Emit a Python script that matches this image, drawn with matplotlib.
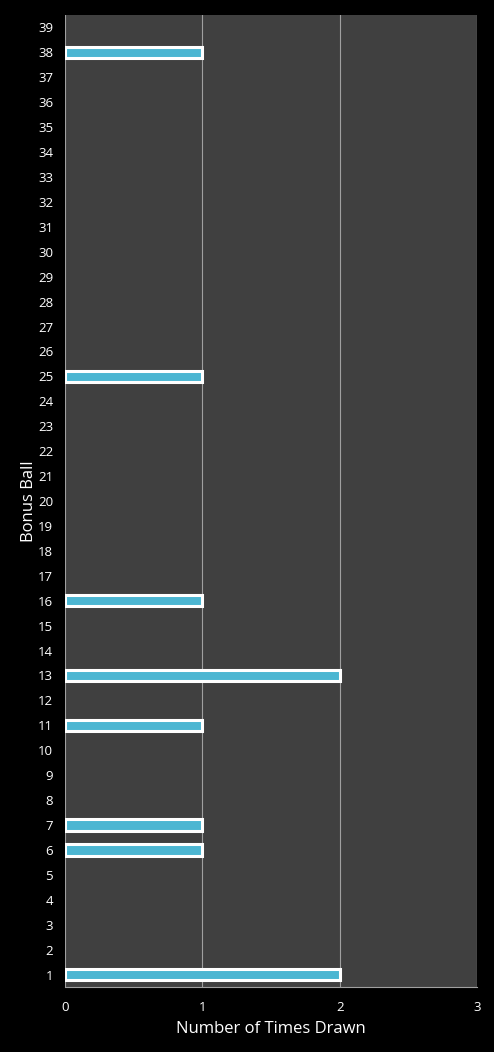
import numpy as np
import matplotlib
matplotlib.use('Agg')
import matplotlib.pyplot as plt

balls = list(range(1, 40))
drawn_balls = [1, 6, 7, 11, 13, 16, 25, 38]
drawn_counts = [2, 1, 1, 1, 2, 1, 1, 1]
x_ticks = [0, 1, 2, 3]

plt.rcParams['font.family'] = ['Open Sans', 'DejaVu Sans']

fig = plt.figure(figsize=(4.94, 10.52), dpi=100, facecolor='black')
ax = fig.add_axes([65 / 494, 65 / 1052, 412 / 494, 972 / 1052])
ax.set_facecolor('#404040')

# only balls that came up get a bar, so the empty ones leave no white stub
ax.barh(drawn_balls, drawn_counts, height=0.46, color='#4cb6d2',
        edgecolor='white', linewidth=2.2, zorder=3)

ax.set_xlim(0, 3)
ax.set_ylim(0.5, 39.5)
ax.set_xticks(x_ticks)
ax.set_yticks(balls)
ax.xaxis.grid(True, color='#a0a0a0', linewidth=0.8, zorder=1)
ax.tick_params(colors='white', labelsize=9.5, length=0)
ax.tick_params(axis='y', pad=8.5)
ax.tick_params(axis='x', pad=10)
for s in ['top', 'right', 'left']:
    ax.spines[s].set_visible(False)
ax.spines['bottom'].set_color('#a0a0a0')
ax.spines['bottom'].set_linewidth(0.8)

ax.set_xlabel('Number of Times Drawn', color='white', fontsize=12, labelpad=5)
ax.set_ylabel('Bonus Ball', color='white', fontsize=12, labelpad=1)

fig.savefig('out.png', dpi=100, facecolor='black')
